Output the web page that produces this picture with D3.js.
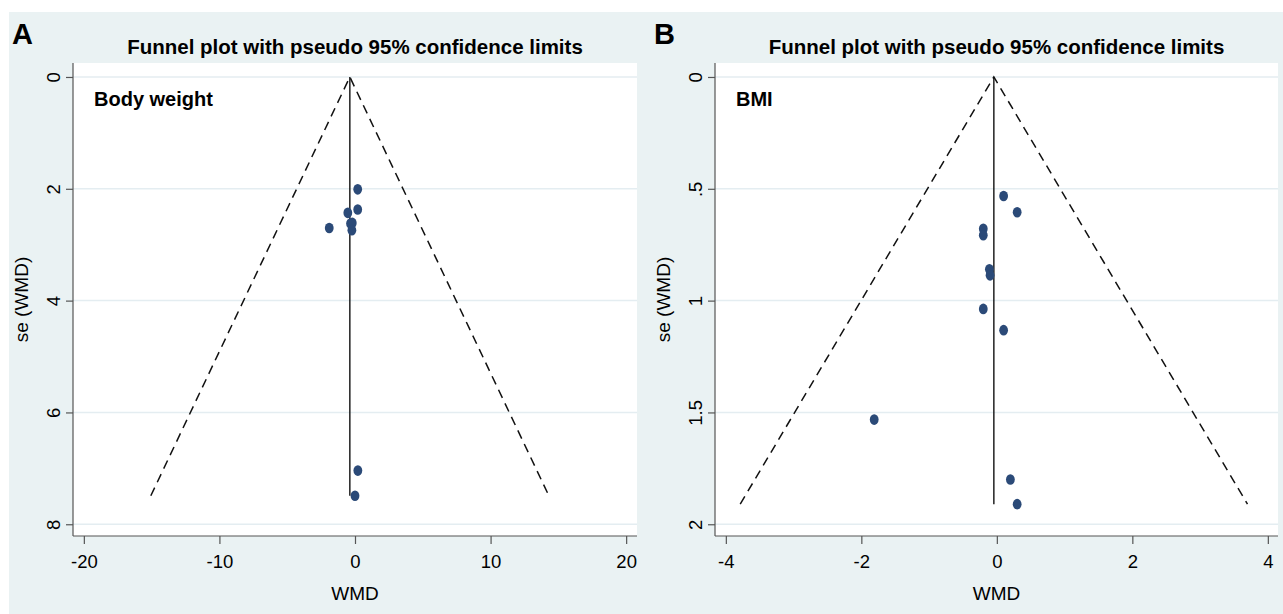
<!DOCTYPE html>
<html>
<head>
<meta charset="utf-8">
<script src="https://cdn.jsdelivr.net/npm/d3@7"></script>
<style>
    body { margin: 0; background: #ffffff; }
    svg text { font-family: "Liberation Sans", Arial, Helvetica, sans-serif; fill: #000; }
</style>
</head>
<body>
<svg id="chart" width="1283" height="614"></svg>
<script>
// Panel A: body weight
const wmdA = [0.2, 0.2, -0.53, -0.33, -0.2, -0.23, -1.9, 0.21, 0.0];
const seA = [2.01, 2.37, 2.43, 2.62, 2.61, 2.74, 2.70, 7.04, 7.49];
const pooledA = -0.38;
const xTicksA = [-20, -10, 0, 10, 20];
const yTicksA = [0, 2, 4, 6, 8];
const yLabelsA = ["0", "2", "4", "6", "8"];

// Panel B: BMI
const wmdB = [0.10, 0.30, -0.20, -0.20, -0.11, -0.10, -0.20, 0.10, -1.81, 0.20, 0.30];
const seB = [0.532, 0.605, 0.679, 0.708, 0.860, 0.887, 1.037, 1.132, 1.532, 1.80, 1.91];
const pooledB = -0.044;
const xTicksB = [-4, -2, 0, 2, 4];
const yTicksB = [0, 0.5, 1, 1.5, 2];
const yLabelsB = ["0", ".5", "1", "1.5", "2"];

const svg = d3.select("#chart");
const bg = "#eaf2f3";
const navy = "#2b4a78";

svg.append("rect")
    .attr("x", 9).attr("y", 12)
    .attr("width", 1283 - 9).attr("height", 614 - 12)
    .attr("fill", bg);

function drawPanel(opts) {
    const g = svg.append("g");
    const x = d3.scaleLinear().domain(opts.xDomain).range([opts.left, opts.right]);
    const y = d3.scaleLinear().domain(opts.yDomain).range([opts.top, opts.bottom]);

    g.append("rect")
        .attr("x", opts.left).attr("y", opts.top)
        .attr("width", opts.right - opts.left).attr("height", opts.bottom - opts.top)
        .attr("fill", "#ffffff");

    // grid lines
    g.selectAll(".grid")
        .data(opts.yTicks)
        .enter()
        .append("line")
        .attr("class", "grid")
        .attr("x1", opts.left).attr("x2", opts.right)
        .attr("y1", d => y(d)).attr("y2", d => y(d))
        .attr("stroke", "#e4edf1")
        .attr("stroke-width", 1.5);

    // axes
    let yAxis = g.append("g")
        .attr("transform", `translate(${opts.left},0)`)
        .call(d3.axisLeft(y).tickValues(opts.yTicks).tickSize(7)
            .tickFormat((d, i) => opts.yLabels[i]));
    yAxis.selectAll("text")
        .attr("transform", "rotate(-90)")
        .attr("x", 0).attr("y", -13).attr("dy", 0)
        .attr("text-anchor", "middle")
        .style("font-size", "18.5px");

    let xAxis = g.append("g")
        .attr("transform", `translate(0,${opts.bottom})`)
        .call(d3.axisBottom(x).tickValues(opts.xTicks).tickSize(8).tickSizeOuter(0)
            .tickFormat(d => String(d)));
    xAxis.selectAll("text")
        .attr("y", 19)
        .style("font-size", "18.5px");

    [yAxis, xAxis].forEach(a => {
        a.select(".domain").attr("stroke", "#555").attr("stroke-width", 1.2);
        a.selectAll(".tick line").attr("stroke", "#555").attr("stroke-width", 1.2);
        a.selectAll("text").attr("fill", "#000").attr("font-family", null);
    });
    yAxis.select(".domain").attr("d", `M0,${opts.top}V${opts.bottom}`);
    xAxis.select(".domain").attr("d", `M${opts.left},0H${opts.right}`);

    // funnel limits
    const seMax = d3.max(opts.se);
    const lo = opts.pooled - 1.96 * seMax;
    const hi = opts.pooled + 1.96 * seMax;
    const funnel = [[lo, seMax], [opts.pooled, 0], [hi, seMax]];
    g.append("path")
        .datum(funnel)
        .attr("d", d3.line().x(d => x(d[0])).y(d => y(d[1])))
        .attr("fill", "none")
        .attr("stroke", "#111")
        .attr("stroke-width", 1.5)
        .attr("stroke-dasharray", "9,6");

    g.append("line")
        .attr("x1", x(opts.pooled)).attr("x2", x(opts.pooled))
        .attr("y1", y(0)).attr("y2", y(seMax))
        .attr("stroke", "#111")
        .attr("stroke-width", 1.4);

    // studies
    const pts = opts.wmd.map((w, i) => ({'wmd': w, 'se': opts.se[i]}));
    g.selectAll(".pt")
        .data(pts)
        .enter()
        .append("ellipse")
        .attr("class", "pt")
        .attr("cx", d => x(d.wmd))
        .attr("cy", d => y(d.se))
        .attr("rx", 4.4)
        .attr("ry", 5.3)
        .attr("fill", navy);

    const cx = (opts.left + opts.right) / 2;
    g.append("text")
        .attr("x", cx).attr("y", 54)
        .attr("text-anchor", "middle")
        .style("font-size", "20.5px")
        .style("font-weight", "bold")
        .text("Funnel plot with pseudo 95% confidence limits");

    g.append("text")
        .attr("x", opts.left - 61).attr("y", 44)
        .style("font-size", "29px")
        .style("font-weight", "bold")
        .text(opts.letter);

    g.append("text")
        .attr("x", opts.left + 21).attr("y", 106)
        .style("font-size", "20px")
        .style("font-weight", "bold")
        .text(opts.label);

    g.append("text")
        .attr("x", cx).attr("y", 600)
        .attr("text-anchor", "middle")
        .style("font-size", "19px")
        .text("WMD");

    g.append("text")
        .attr("transform", `translate(${opts.left - 45},${(opts.top + opts.bottom) / 2}) rotate(-90)`)
        .attr("text-anchor", "middle")
        .style("font-size", "19px")
        .text("se (WMD)");
}

drawPanel({
    letter: "A", label: "Body weight",
    left: 73, right: 637, top: 63, bottom: 536,
    xDomain: [-20.8, 20.8], yDomain: [-0.25, 8.21],
    xTicks: xTicksA, yTicks: yTicksA, yLabels: yLabelsA,
    wmd: wmdA, se: seA, pooled: pooledA
});

drawPanel({
    letter: "B", label: "BMI",
    left: 715, right: 1278, top: 63, bottom: 536,
    xDomain: [-4.16, 4.15], yDomain: [-0.0625, 2.0525],
    xTicks: xTicksB, yTicks: yTicksB, yLabels: yLabelsB,
    wmd: wmdB, se: seB, pooled: pooledB
});
</script>
</body>
</html>
